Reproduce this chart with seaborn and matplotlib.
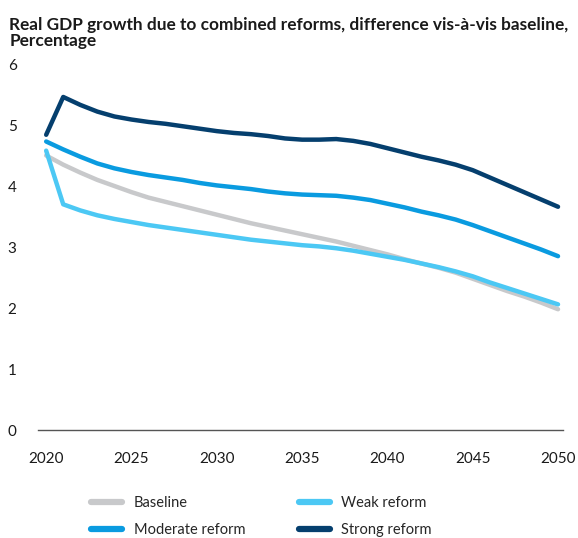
import numpy as np
import pandas as pd
import matplotlib.pyplot as plt
import seaborn as sns

# --------------------------
# 数据
# --------------------------
years = list(range(2020, 2051))

baseline = [4.50, 4.35, 4.22, 4.10, 4.00, 3.90, 3.81, 3.74, 3.67, 3.60,
            3.53, 3.46, 3.39, 3.33, 3.27, 3.21, 3.15, 3.09, 3.02, 2.95,
            2.88, 2.80, 2.73, 2.66, 2.58, 2.48, 2.38, 2.28, 2.19, 2.09, 1.98]
weak = [4.58, 3.70, 3.60, 3.52, 3.46, 3.41, 3.36, 3.32, 3.28, 3.24,
        3.20, 3.16, 3.12, 3.09, 3.06, 3.03, 3.01, 2.98, 2.94, 2.89,
        2.84, 2.79, 2.73, 2.67, 2.60, 2.52, 2.42, 2.33, 2.24, 2.15, 2.06]
moderate = [4.73, 4.60, 4.48, 4.37, 4.29, 4.23, 4.18, 4.14, 4.10, 4.05,
            4.01, 3.98, 3.95, 3.91, 3.88, 3.86, 3.85, 3.84, 3.81, 3.77,
            3.71, 3.65, 3.58, 3.52, 3.45, 3.36, 3.26, 3.16, 3.06, 2.96, 2.85]
strong = [4.84, 5.46, 5.33, 5.22, 5.14, 5.09, 5.05, 5.02, 4.98, 4.94,
          4.90, 4.87, 4.85, 4.82, 4.78, 4.76, 4.76, 4.77, 4.74, 4.69,
          4.62, 4.55, 4.48, 4.42, 4.35, 4.26, 4.14, 4.02, 3.90, 3.78, 3.66]

series_names = ["Baseline", "Weak reform", "Moderate reform", "Strong reform"]
colors = ["#c8c9cb", "#4cc8f4", "#0a9be0", "#053f6e"]
xticks = [2020, 2025, 2030, 2035, 2040, 2045, 2050]
yticks = [0, 1, 2, 3, 4, 5, 6]
title = "Real GDP growth due to combined reforms, difference vis-à-vis baseline,\nPercentage"

# --------------------------
# 整理成长表
# --------------------------
df = pd.DataFrame({
    "year": years * 4,
    "value": baseline + weak + moderate + strong,
    "series": sum([[n] * len(years) for n in series_names], []),
})

sns.set_theme(style="white")
plt.rcParams["font.family"] = ["Lato", "DejaVu Sans"]

fig = plt.figure(figsize=(5.78, 5.38), dpi=100)
ax = fig.add_axes([0.066, 0.2007, 0.908, 0.6803])

sns.lineplot(data=df, x="year", y="value", hue="series", hue_order=series_names,
             palette=colors, linewidth=3.2, ax=ax, legend=False,
             solid_capstyle="round", solid_joinstyle="round")

ax.set_xlim(2019.53, 2050.29)
ax.set_ylim(0, 6)
ax.set_xticks(xticks)
ax.set_yticks(yticks)
ax.set_xlabel("")
ax.set_ylabel("")
ax.tick_params(axis="both", length=0, labelsize=11, colors="#1a1a1a")
ax.tick_params(axis="x", pad=16)
ax.tick_params(axis="y", pad=0)
for lab in ax.get_yticklabels():
    lab.set_horizontalalignment("left")
    lab.set_x(-0.058)

for s in ["top", "right", "left"]:
    ax.spines[s].set_visible(False)
ax.spines["bottom"].set_color("#555555")
ax.spines["bottom"].set_linewidth(1.0)

fig.text(0.016, 0.968, title, fontsize=12.4, fontweight="bold", color="#1a1a1a",
         va="top", ha="left", linespacing=0.95)

# 图例（两列：第一行 Baseline / Weak，第二行 Moderate / Strong）
order = [0, 2, 1, 3]
handles = [plt.Line2D([0], [0], color=colors[i], linewidth=4.5, solid_capstyle="round")
           for i in order]
labels = [series_names[i] for i in order]
fig.legend(handles, labels, ncol=2, frameon=False, fontsize=10.5,
           loc="center", bbox_to_anchor=(0.4524, 0.040),
           handlelength=2.1, handletextpad=0.8, columnspacing=3.7,
           labelspacing=0.9, borderaxespad=0)

fig.savefig("out.png", dpi=100)
